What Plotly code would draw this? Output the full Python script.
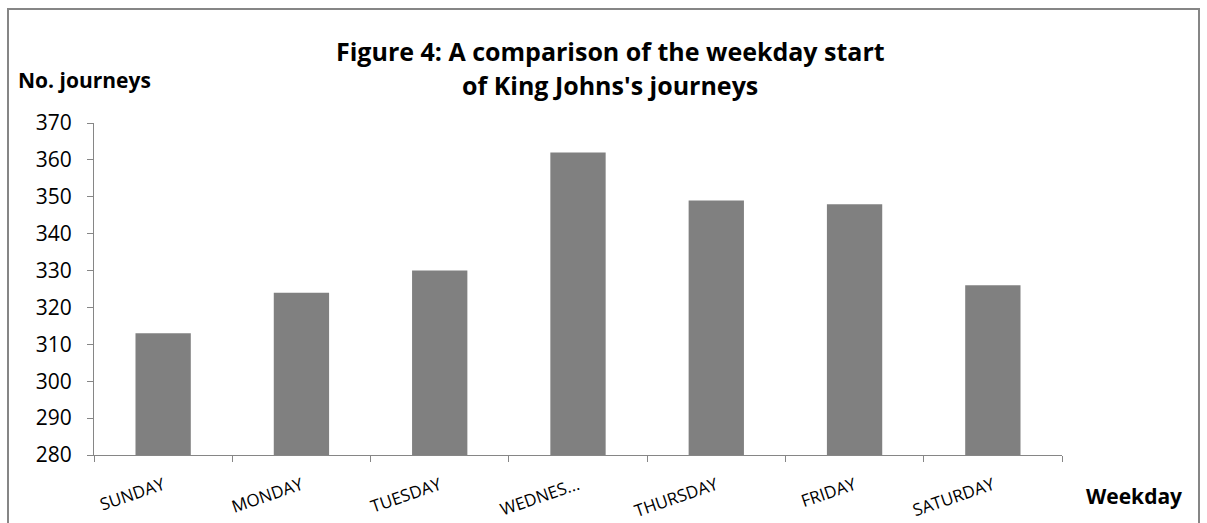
import plotly.graph_objects as go

days = ["SUNDAY", "MONDAY", "TUESDAY", "WEDNES...", "THURSDAY", "FRIDAY", "SATURDAY"]
journeys = [313, 324, 330, 362, 349, 348, 326]
y_ticks = [280, 290, 300, 310, 320, 330, 340, 350, 360, 370]

FONT = "Open Sans"
AXIS_GREY = "#868686"

# plot area in pixels (left, right, top, bottom)
L, R, T, B = 94, 1062, 123, 455
W, H = R - L, B - T


def px(x, y):
    # pixel position on the page -> paper coordinates
    return (x - L) / W, (B - y) / H


fig = go.Figure()
fig.add_trace(go.Bar(x=days, y=journeys, marker=dict(color="#808080", line=dict(width=0))))

fig.update_layout(
    width=1207, height=523,
    margin=dict(l=L, r=1207 - R, t=T, b=523 - B),
    paper_bgcolor="white", plot_bgcolor="white",
    bargap=0.6,
    showlegend=False,
    font=dict(family=FONT, color="black"),
)
fig.update_yaxes(
    range=[280, 370], tickvals=y_ticks, showgrid=False, automargin=False,
    showline=True, linecolor=AXIS_GREY, linewidth=1,
    ticks="outside", ticklen=6, tickcolor=AXIS_GREY,
    tickfont=dict(size=21, family=FONT), zeroline=False, ticklabelstandoff=11,
)
fig.update_xaxes(
    showline=True, linecolor=AXIS_GREY, linewidth=1, automargin=False,
    ticks="outside", ticklen=6, tickcolor=AXIS_GREY, tickson="boundaries",
    tickangle=-19, tickfont=dict(size=17, family=FONT), ticklabelstandoff=13,
)

# titles
title_lines = ["<b>Figure 4: A comparison of the weekday start</b>", "<b>of King Johns's journeys</b>"]
for txt, ypx in zip(title_lines, [51, 85]):
    x, y = px(610, ypx)
    fig.add_annotation(text=txt, xref="paper", yref="paper", x=x, y=y,
                       xanchor="center", yanchor="middle", showarrow=False,
                       font=dict(size=25, family=FONT))
x, y = px(16, 80)
fig.add_annotation(text="<b>No. journeys</b>", xref="paper", yref="paper", x=x, y=y,
                   xanchor="left", yanchor="middle", showarrow=False,
                   font=dict(size=21, family=FONT))
x, y = px(1084, 496)
fig.add_annotation(text="<b>Weekday</b>", xref="paper", yref="paper", x=x, y=y,
                   xanchor="left", yanchor="middle", showarrow=False,
                   font=dict(size=21, family=FONT))

# chart border
x0, y0 = px(8, 530)
x1, y1 = px(1199, 9)
fig.add_shape(type="rect", xref="paper", yref="paper", x0=x0, x1=x1, y0=y0, y1=y1,
              line=dict(color=AXIS_GREY, width=2))

fig.write_html("out.html", config={"displayModeBar": False},
               post_script="document.body.style.margin='0';")
